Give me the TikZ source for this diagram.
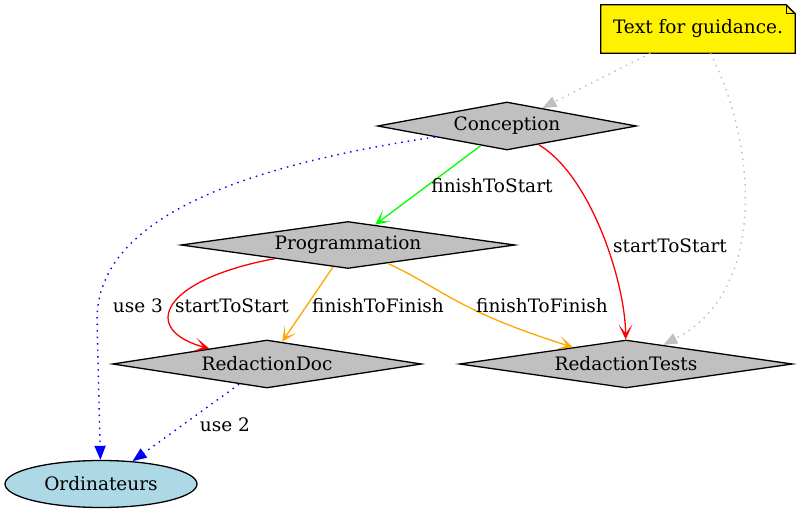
\documentclass[tikz,border=0pt]{standalone}
\usepackage{fontspec}
\setmainfont{DejaVu Serif}
\usetikzlibrary{shapes.geometric,arrows.meta}
\definecolor{gvgray}{HTML}{C0C0C0}
\definecolor{gvorange}{HTML}{FFA500}
\definecolor{gvgreen}{HTML}{00FF00}
\definecolor{gvblue}{HTML}{0000FF}
\definecolor{gvlightblue}{HTML}{ADD8E6}
\tikzset{
  every node/.style={font=\fontsize{18.5}{22}\selectfont},
  task/.style={diamond, draw=black, fill=gvgray, line width=1.3pt, aspect=5.4, inner sep=0pt},
  resource/.style={ellipse, draw=black, fill=gvlightblue, line width=1.3pt, inner sep=0pt, minimum width=192pt, minimum height=47pt},
  vee/.style={-{Stealth[length=15pt,width=14pt,inset=9pt]}, line width=1.3pt},
  filled/.style={-{Triangle[length=14pt,width=11pt]}},
  dotline/.style={line width=1.4pt, dash pattern=on 1.5pt off 5pt},
  guide/.style={dotline, filled, draw=gvgray},
  usage/.style={dotline, filled, draw=gvblue},
  lbl/.style={inner sep=0pt}
}
\begin{document}
\begin{tikzpicture}[x=1pt,y=-1pt]
\useasboundingbox (0,0) rectangle (800,513);
% note
\node[minimum width=194pt, minimum height=48pt, inner sep=0pt] (note) at (698,29) {};
\draw[fill=yellow, line width=1.3pt] (note.south west) -- (note.north west) -- ([xshift=-9pt]note.north east) -- ([yshift=-9pt]note.north east) -- (note.south east) -- cycle;
\draw[line width=1.3pt] ([xshift=-9pt]note.north east) -- ([xshift=-9pt,yshift=-9pt]note.north east) -- ([yshift=-9pt]note.north east);
\node at (note.center) {Text for guidance.};
% tasks
\node[task, minimum width=259pt, minimum height=48pt] (conc) at (507,126) {Conception};
\node[task, minimum width=334pt, minimum height=47pt] (prog) at (348,245) {Programmation};
\node[task, minimum width=309pt, minimum height=48pt] (doc) at (267,364) {RedactionDoc};
\node[task, minimum width=333pt, minimum height=48pt] (tests) at (626,364) {RedactionTests};
\node[resource] (ord) at (101,484) {Ordinateurs};
% edges
\draw[guide] (note) -- (conc);
\draw[guide] (note) .. controls (755,140) and (770,290) .. (tests);
\draw[vee, draw=gvgreen] (conc) -- (prog);
\draw[vee, draw=red] (conc) .. controls (590,175) and (625,280) .. (tests);
\draw[usage] (conc) .. controls (250,165) and (97,215) .. (97,320) -- (ord);
\draw[vee, draw=red] (prog) .. controls (160,280) and (140,330) .. (doc);
\draw[vee, draw=gvorange] (prog) -- (doc);
\draw[vee, draw=gvorange] (prog) .. controls (445,290) and (455,310) .. (tests);
\draw[usage] (doc) -- (ord);
% labels
\node[lbl] (l1) at (492,186) {finishToStart};
\node[lbl] (l2) at (670,246) {startToStart};
\node[lbl] (l3) at (138,306) {use 3};
\node[lbl] (l4) at (232,306) {startToStart};
\node[lbl] (l5) at (378,306) {finishToFinish};
\node[lbl] (l6) at (542,306) {finishToFinish};
\node[lbl] (l7) at (225,425) {use 2};
\end{tikzpicture}
\end{document}
